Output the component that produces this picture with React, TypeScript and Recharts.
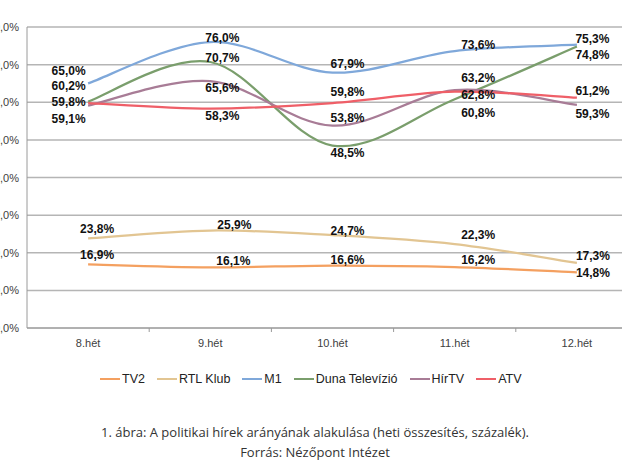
import React from 'react';
import { LineChart, Line, XAxis, YAxis, CartesianGrid, LabelList } from 'recharts';

// ---- data ----
const WEEKS = ['8.hét', '9.hét', '10.hét', '11.hét', '12.hét'];
const TV2 = [16.9, 16.1, 16.6, 16.2, 14.8];
const RTL_KLUB = [23.8, 25.9, 24.7, 22.3, 17.3];
const M1 = [65.0, 76.0, 67.9, 73.6, 75.3];
const DUNA = [60.2, 70.7, 48.5, 60.8, 74.8];
const HIRTV = [59.1, 65.6, 53.8, 63.2, 59.3];
const ATV = [59.8, 58.3, 59.8, 62.8, 61.2];
const Y_TICKS = [0, 10, 20, 30, 40, 50, 60, 70, 80];
const SERIES_KEYS = ['tv2', 'rtl', 'm1', 'duna', 'hirtv', 'atv'];
const SERIES_NAMES = ['TV2', 'RTL Klub', 'M1', 'Duna Televízió', 'HírTV', 'ATV'];
const CAPTION = '1. ábra: A politikai hírek arányának alakulása (heti összesítés, százalék).';
const SOURCE = 'Forrás: Nézőpont Intézet';

// ---- styles ----
const COLORS: Record<string, string> = {
  tv2: '#F4A060',
  rtl: '#E2C592',
  m1: '#7FA8DA',
  duna: '#7A9E6C',
  hirtv: '#A87C96',
  atv: '#EF5F68',
};

// label offsets (dx, dy) relative to each point, per series
const LABEL_OFFSETS: Record<string, number[][]> = {
  tv2: [[9, -9.5], [23, -6], [15, -5.5], [23.5, -7], [16, 1]],
  rtl: [[9, -9.5], [24, -6], [15, -4], [23.5, -9], [16, -7]],
  m1: [[-19.5, -12], [12, -4.5], [15, -9], [23.5, -6], [15.5, -5.5]],
  duna: [[-19.5, -15.5], [12, -4], [15, 7.5], [23.5, 14], [15.5, 8.5]],
  hirtv: [[-19.5, 13.5], [12, 6.5], [15, -7.5], [23.5, -12.5], [15.5, 9.5]],
  atv: [[-19.5, -1], [12, 7.5], [15, -11], [23.5, 3.5], [15.5, -6.5]],
};

const CW = 660;
const CH = 360;
const XH = 32;
const MARGIN = { top: 27, right: 22, bottom: 0, left: 0 };
const YW = 27;
const AXIS_Y = CH - XH - MARGIN.bottom;
const BAND = (CW - MARGIN.right - YW) / WEEKS.length;

const rows = WEEKS.map((w, i) => ({
  week: w,
  tv2: TV2[i],
  rtl: RTL_KLUB[i],
  m1: M1[i],
  duna: DUNA[i],
  hirtv: HIRTV[i],
  atv: ATV[i],
}));

const fmt = (v: number) => v.toFixed(1).replace('.', ',') + '%';

// Excel-like smoothed line (Catmull-Rom / cardinal, tension 0)
const excelSmooth = (ctx: any) => {
  let pts: number[][] = [];
  return {
    areaStart() {},
    areaEnd() {},
    lineStart() {
      pts = [];
    },
    point(x: number, y: number) {
      pts.push([+x, +y]);
    },
    lineEnd() {
      const n = pts.length;
      if (!n) return;
      ctx.moveTo(pts[0][0], pts[0][1]);
      for (let i = 0; i < n - 1; i++) {
        const p0 = pts[i - 1] || pts[i];
        const p1 = pts[i];
        const p2 = pts[i + 1];
        const p3 = pts[i + 2] || p2;
        ctx.bezierCurveTo(
          p1[0] + (p2[0] - p0[0]) / 6,
          p1[1] + (p2[1] - p0[1]) / 6,
          p2[0] - (p3[0] - p1[0]) / 6,
          p2[1] - (p3[1] - p1[1]) / 6,
          p2[0],
          p2[1]
        );
      }
    },
  };
};

const YTick = (props: any) => {
  const { y, payload } = props;
  return (
    <text
      x={19}
      y={y}
      textAnchor="end"
      dominantBaseline="central"
      fontSize={11}
      fontFamily="Arial, 'Liberation Sans', sans-serif"
      fill="#404040"
    >
      {fmt(payload.value)}
    </text>
  );
};

const XTick = (props: any) => {
  const { x, payload, index } = props;
  return (
    <g>
      {index < WEEKS.length - 1 && (
        <line x1={x + BAND / 2} x2={x + BAND / 2} y1={AXIS_Y} y2={AXIS_Y + 4} stroke="#9a9a9a" strokeWidth={1} />
      )}
      <text
        x={x}
        y={AXIS_Y + 19}
        textAnchor="middle"
        fontSize={11}
        fontFamily="Arial, 'Liberation Sans', sans-serif"
        fill="#404040"
      >
        {payload.value}
      </text>
    </g>
  );
};

const makeLabel = (key: string) => (props: any) => {
  const { x, y, value, index } = props;
  if (x == null || y == null) return null;
  const off = LABEL_OFFSETS[key][index] || [0, -8];
  return (
    <text
      x={x + off[0]}
      y={y + off[1]}
      textAnchor="middle"
      dominantBaseline="central"
      fontSize={12}
      fontWeight="bold"
      fontFamily="Arial, 'Liberation Sans', sans-serif"
      fill="#111"
    >
      {fmt(value)}
    </text>
  );
};

export default function App() {
  return (
    <div
      style={{
        position: 'absolute',
        left: 0,
        top: 0,
        width: 622,
        height: 467,
        overflow: 'hidden',
        background: '#fff',
      }}
    >
      <LineChart width={CW} height={CH} data={rows} margin={MARGIN}>
        <CartesianGrid vertical={false} stroke="#b5b5b5" strokeWidth={1.5} />
        <XAxis
          dataKey="week"
          height={XH}
          axisLine={{ stroke: '#9a9a9a' }}
          tickLine={false}
          tick={<XTick />}
          interval={0}
          padding={{ left: BAND / 2, right: BAND / 2 }}
        />
        <YAxis
          width={YW}
          domain={[0, 80]}
          ticks={Y_TICKS}
          axisLine={{ stroke: '#9a9a9a' }}
          tickLine={false}
          tick={<YTick />}
          interval={0}
        />
        {SERIES_KEYS.map((k, i) => (
          <Line
            key={k}
            dataKey={k}
            name={SERIES_NAMES[i]}
            type={excelSmooth as any}
            stroke={COLORS[k]}
            strokeWidth={2.25}
            dot={false}
            activeDot={false}
            isAnimationActive={false}
          >
            <LabelList dataKey={k} content={makeLabel(k)} />
          </Line>
        ))}
      </LineChart>
      <div
        style={{
          position: 'absolute',
          left: 100,
          top: 372,
          display: 'flex',
          alignItems: 'center',
          fontFamily: "Arial, 'Liberation Sans', sans-serif",
          fontSize: 12.5,
          color: '#222',
          whiteSpace: 'nowrap',
        }}
      >
        {SERIES_KEYS.map((k, i) => (
          <div key={k} style={{ display: 'flex', alignItems: 'center', marginRight: 12 }}>
            <span style={{ display: 'inline-block', width: 20, height: 2, background: COLORS[k], marginRight: 2 }} />
            <span>{SERIES_NAMES[i]}</span>
          </div>
        ))}
      </div>
      <div
        style={{
          position: 'absolute',
          left: 0,
          top: 422,
          width: 630,
          textAlign: 'center',
          fontFamily: "'Open Sans', sans-serif",
          fontSize: 13,
          lineHeight: '20px',
          color: '#333',
        }}
      >
        <div>{CAPTION}</div>
        <div>{SOURCE}</div>
      </div>
    </div>
  );
}
